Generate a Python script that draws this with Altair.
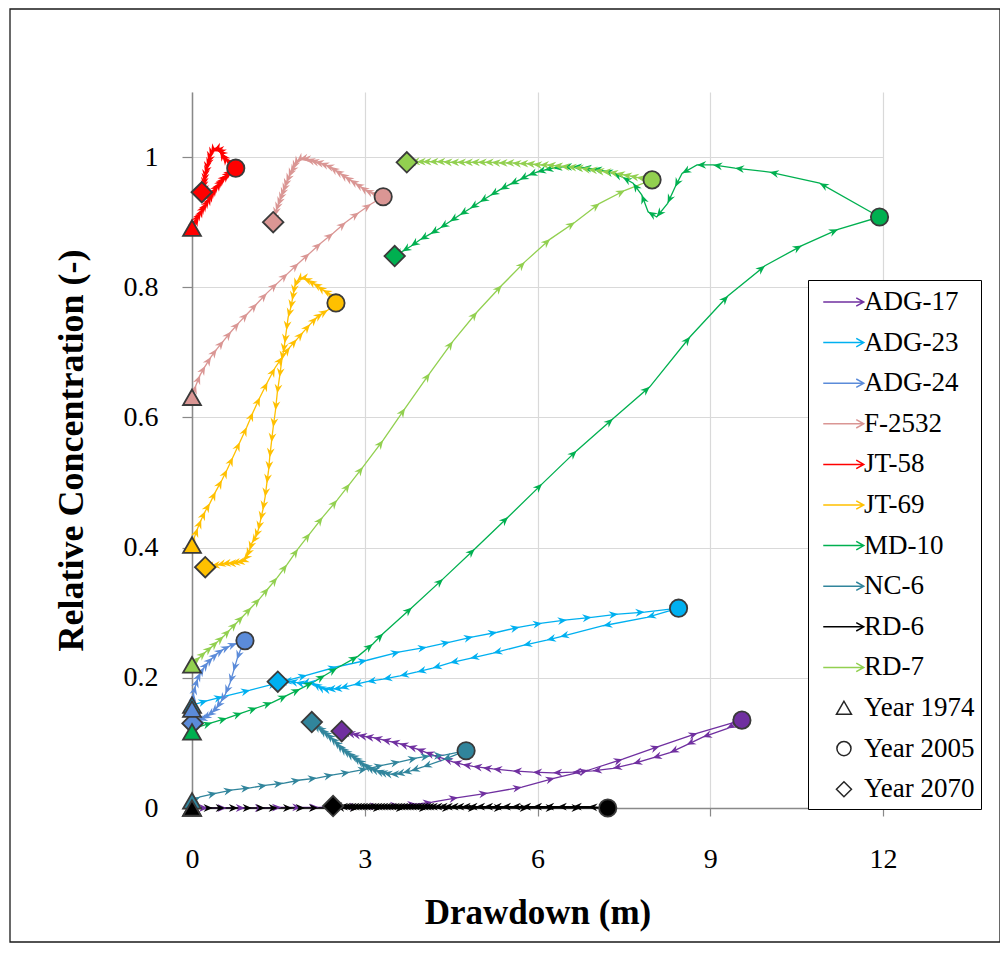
import math
import pandas as pd
import altair as alt

SERIF = "Liberation Serif"

WELLS = ["ADG-17", "ADG-23", "ADG-24", "F-2532", "JT-58", "JT-69", "MD-10", "NC-6", "RD-6", "RD-7"]
COLORS = ["#7030A0", "#00B0F0", "#5B8BD9", "#DA9694", "#FF0000", "#FFC000", "#00B050", "#31859C", "#000000", "#92D050"]
YEAR_LABELS = ["Year 1974", "Year 2005", "Year 2070"]
X_TICKS = [0, 3, 6, 9, 12]
Y_TICKS = [0, 0.2, 0.4, 0.6, 0.8, 1.0]

# Each well: path 1974 -> 2005 (ends at the 2005 point), then 2005 -> 2070 (ends at the 2070 point)
ADG17_TO_2005 = [(0, 0), (0.28, 0), (0.6, 0), (0.92, 0), (1.25, 0), (1.55, 0.001), (1.9, 0.001), (2.2, 0.001),
                 (2.55, 0.002), (2.9, 0.002), (3.25, 0.003), (3.6, 0.004), (3.9, 0.006), (4.17, 0.009), (4.62, 0.016),
                 (5.14, 0.023), (5.73, 0.032), (6.30, 0.046), (6.88, 0.058), (7.48, 0.075), (8.12, 0.095),
                 (8.78, 0.115), (9.55, 0.135)]
ADG17_TO_2070 = [(9.29, 0.122), (8.87, 0.109), (8.59, 0.097), (8.30, 0.085), (8.00, 0.077), (7.66, 0.068),
                 (7.31, 0.061), (6.96, 0.057), (6.61, 0.055), (6.27, 0.054), (5.92, 0.055), (5.57, 0.057),
                 (5.23, 0.060), (5.05, 0.062), (4.88, 0.064), (4.7, 0.067), (4.53, 0.071), (4.37, 0.076),
                 (4.2, 0.081), (4.05, 0.086), (3.9, 0.091), (3.75, 0.095), (3.6, 0.099), (3.45, 0.102), (3.3, 0.105),
                 (3.15, 0.108), (3.0, 0.11), (2.88, 0.112), (2.77, 0.114), (2.68, 0.116), (2.6, 0.118)]

ADG23_TO_2005 = [(0, 0.158), (0.27, 0.165), (0.54, 0.171), (1.01, 0.181), (1.48, 0.192), (2.0, 0.204),
                 (2.52, 0.217), (3.04, 0.227), (3.61, 0.240), (4.08, 0.247), (4.48, 0.255), (4.88, 0.263),
                 (5.30, 0.270), (5.69, 0.278), (6.08, 0.284), (6.51, 0.289), (6.94, 0.293), (7.40, 0.298),
                 (7.86, 0.301), (8.45, 0.307)]
ADG23_TO_2070 = [(7.90, 0.293), (7.14, 0.280), (6.39, 0.263), (6.16, 0.258), (5.75, 0.250), (5.23, 0.238),
                 (4.83, 0.230), (4.48, 0.223), (4.18, 0.215), (3.91, 0.209), (3.61, 0.203), (3.32, 0.198),
                 (3.04, 0.194), (2.80, 0.189), (2.57, 0.184), (2.45, 0.183), (2.34, 0.182), (2.25, 0.184),
                 (2.17, 0.188), (2.10, 0.192), (2.0, 0.193), (1.9, 0.191), (1.8, 0.193), (1.68, 0.195),
                 (1.58, 0.194), (1.49, 0.194)]

ADG24_TO_2005 = [(0, 0.152), (0.01, 0.165), (0.03, 0.177), (0.06, 0.188), (0.1, 0.199), (0.15, 0.208),
                 (0.21, 0.216), (0.28, 0.224), (0.36, 0.231), (0.45, 0.238), (0.55, 0.244), (0.66, 0.249),
                 (0.78, 0.253), (0.92, 0.257)]
ADG24_TO_2070 = [(0.85, 0.245), (0.78, 0.228), (0.72, 0.21), (0.66, 0.192), (0.58, 0.175), (0.5, 0.163),
                 (0.42, 0.153), (0.34, 0.146), (0.26, 0.141), (0.18, 0.137), (0.11, 0.135), (0.05, 0.134),
                 (0.01, 0.13)]

F2532_TO_2005 = [(0, 0.631), (0.07, 0.650), (0.14, 0.665), (0.23, 0.679), (0.33, 0.693), (0.43, 0.705),
                 (0.55, 0.718), (0.68, 0.732), (0.82, 0.746), (0.97, 0.760), (1.13, 0.775), (1.30, 0.791),
                 (1.48, 0.806), (1.66, 0.821), (1.85, 0.837), (2.04, 0.852), (2.24, 0.868), (2.45, 0.883),
                 (2.67, 0.900), (2.90, 0.915), (3.11, 0.928), (3.32, 0.939)]
F2532_TO_2070 = [(3.2, 0.942), (3.09, 0.946), (3.0, 0.950), (2.92, 0.955), (2.83, 0.960), (2.74, 0.965),
                 (2.65, 0.970), (2.57, 0.975), (2.48, 0.980), (2.40, 0.985), (2.31, 0.988), (2.22, 0.991),
                 (2.13, 0.993), (2.05, 0.995), (1.98, 0.997), (1.91, 0.997), (1.86, 0.996), (1.82, 0.993),
                 (1.78, 0.987), (1.75, 0.981), (1.71, 0.975), (1.68, 0.969), (1.64, 0.961), (1.61, 0.953),
                 (1.58, 0.946), (1.55, 0.939), (1.52, 0.932), (1.49, 0.925), (1.46, 0.917), (1.44, 0.909),
                 (1.41, 0.900)]

JT58_TO_2005 = [(0, 0.891), (0.03, 0.896), (0.05, 0.900), (0.08, 0.904), (0.10, 0.908), (0.13, 0.912),
                (0.16, 0.916), (0.19, 0.921), (0.23, 0.926), (0.26, 0.930), (0.30, 0.935), (0.33, 0.940),
                (0.36, 0.945), (0.40, 0.950), (0.43, 0.954), (0.47, 0.958), (0.50, 0.962), (0.54, 0.966),
                (0.57, 0.969), (0.61, 0.972), (0.64, 0.975), (0.68, 0.978), (0.71, 0.980), (0.76, 0.983)]
JT58_TO_2070 = [(0.72, 0.987), (0.68, 0.991), (0.64, 0.993), (0.61, 0.995), (0.57, 0.998), (0.54, 1.002),
                (0.51, 1.005), (0.49, 1.008), (0.46, 1.010), (0.43, 1.011), (0.40, 1.011), (0.38, 1.010),
                (0.35, 1.009), (0.33, 1.006), (0.31, 1.001), (0.30, 0.995), (0.28, 0.990), (0.26, 0.985),
                (0.25, 0.979), (0.23, 0.973), (0.22, 0.967), (0.21, 0.961), (0.20, 0.955), (0.19, 0.950),
                (0.17, 0.946)]

JT69_TO_2005 = [(0, 0.404), (0.05, 0.418), (0.10, 0.430), (0.16, 0.443), (0.23, 0.456), (0.31, 0.468),
                (0.41, 0.486), (0.52, 0.504), (0.61, 0.520), (0.71, 0.539), (0.83, 0.562), (0.95, 0.585),
                (1.06, 0.608), (1.18, 0.631), (1.31, 0.654), (1.44, 0.676), (1.57, 0.693), (1.70, 0.708),
                (1.82, 0.720), (1.93, 0.731), (2.05, 0.743), (2.17, 0.754), (2.27, 0.760), (2.36, 0.765),
                (2.50, 0.776)]
JT69_TO_2070 = [(2.42, 0.787), (2.35, 0.792), (2.27, 0.796), (2.18, 0.802), (2.10, 0.806), (2.01, 0.811),
                (1.93, 0.814), (1.87, 0.813), (1.82, 0.809), (1.78, 0.800), (1.76, 0.790), (1.74, 0.780),
                (1.71, 0.767), (1.67, 0.754), (1.64, 0.734), (1.61, 0.714), (1.585, 0.700), (1.56, 0.688),
                (1.52, 0.662), (1.48, 0.637), (1.45, 0.611), (1.41, 0.585), (1.38, 0.562), (1.35, 0.539),
                (1.33, 0.519), (1.30, 0.499), (1.27, 0.478), (1.23, 0.458), (1.19, 0.442), (1.15, 0.427),
                (1.10, 0.415), (1.04, 0.407), (1.00, 0.396), (0.95, 0.386), (0.89, 0.380), (0.83, 0.378),
                (0.76, 0.377), (0.68, 0.376), (0.61, 0.376), (0.52, 0.375), (0.43, 0.373), (0.33, 0.372),
                (0.23, 0.370)]

MD10_TO_2005 = [(0, 0.117), (0.09, 0.124), (0.35, 0.131), (0.61, 0.138), (0.87, 0.146), (1.13, 0.154),
                (1.39, 0.162), (1.65, 0.173), (1.88, 0.183), (2.10, 0.193), (2.31, 0.204), (2.52, 0.215),
                (2.88, 0.233), (3.14, 0.252), (3.32, 0.268), (3.82, 0.308), (4.36, 0.352), (4.91, 0.398),
                (5.49, 0.447), (6.08, 0.498), (6.68, 0.549), (7.31, 0.598), (7.95, 0.647), (8.65, 0.724),
                (9.31, 0.787), (9.95, 0.833), (10.59, 0.864), (11.22, 0.889), (11.94, 0.908)]
MD10_TO_2070 = [(10.90, 0.960), (10.03, 0.977), (9.43, 0.983), (9.05, 0.988), (8.77, 0.988), (8.51, 0.975),
                (8.39, 0.954), (8.26, 0.929), (8.07, 0.908), (7.92, 0.916), (7.81, 0.942), (7.66, 0.960),
                (7.48, 0.969), (7.31, 0.975), (7.15, 0.979), (6.96, 0.982), (6.78, 0.984), (6.61, 0.985),
                (6.44, 0.985), (6.27, 0.983), (6.12, 0.980), (5.99, 0.977), (5.84, 0.972), (5.69, 0.965),
                (5.52, 0.958), (5.35, 0.950), (5.18, 0.941), (5.00, 0.931), (4.83, 0.921), (4.65, 0.911),
                (4.48, 0.901), (4.31, 0.891), (4.14, 0.882), (3.96, 0.873), (3.80, 0.863), (3.65, 0.855),
                (3.52, 0.848)]

NC6_TO_2005 = [(0, 0.011), (0.14, 0.017), (0.43, 0.023), (0.71, 0.028), (1.01, 0.031), (1.30, 0.035),
               (1.58, 0.038), (1.88, 0.043), (2.17, 0.046), (2.45, 0.051), (2.74, 0.055), (3.04, 0.060),
               (3.32, 0.066), (3.61, 0.071), (3.91, 0.077), (4.13, 0.080), (4.36, 0.081), (4.76, 0.088)]
NC6_TO_2070 = [(4.36, 0.074), (4.01, 0.063), (3.80, 0.057), (3.66, 0.054), (3.54, 0.052), (3.44, 0.052),
               (3.32, 0.054), (3.24, 0.056), (3.18, 0.058), (3.09, 0.061), (3.03, 0.064), (2.97, 0.067),
               (2.92, 0.071), (2.86, 0.075), (2.80, 0.079), (2.74, 0.082), (2.68, 0.086), (2.62, 0.090),
               (2.57, 0.094), (2.52, 0.099), (2.46, 0.104), (2.40, 0.109), (2.33, 0.114), (2.27, 0.118),
               (2.22, 0.122), (2.17, 0.125), (2.12, 0.129), (2.08, 0.132)]

RD6_TO_2005 = [(0, 0), (0.14, 0), (0.36, 0), (0.57, 0), (0.80, 0), (1.04, 0), (1.27, 0), (1.49, 0), (1.74, 0),
               (1.96, 0), (2.19, 0), (2.5, 0), (2.9, 0), (3.3, 0), (3.7, 0), (4.1, 0), (4.5, 0), (4.95, 0),
               (5.4, 0), (5.85, 0), (6.3, 0), (6.75, 0), (7.22, 0)]
RD6_TO_2070 = [(6.88, 0.002), (6.61, 0.002), (6.35, 0.002), (6.13, 0.002), (5.92, 0.002), (5.73, 0.002),
               (5.55, 0.002), (5.38, 0.002), (5.22, 0.002), (5.07, 0.002), (4.93, 0.002), (4.80, 0.002),
               (4.68, 0.002), (4.57, 0.002), (4.47, 0.002), (4.37, 0.002), (4.28, 0.002), (4.19, 0.002),
               (4.11, 0.002), (4.05, 0.002), (4.00, 0.002), (3.95, 0.002), (3.90, 0.002), (3.85, 0.002),
               (3.80, 0.002), (3.75, 0.002), (3.70, 0.002), (3.65, 0.002), (3.60, 0.002), (3.55, 0.002),
               (3.50, 0.002), (3.45, 0.002), (3.40, 0.002), (3.35, 0.002), (3.30, 0.002), (3.25, 0.002),
               (3.20, 0.002), (3.15, 0.002), (3.10, 0.002), (3.05, 0.002), (3.00, 0.002), (2.95, 0.002),
               (2.90, 0.002), (2.85, 0.002), (2.80, 0.002), (2.75, 0.002), (2.70, 0.002), (2.65, 0.002),
               (2.60, 0.002), (2.55, 0.002), (2.50, 0.003), (2.45, 0.003)]

RD7_TO_2005 = [(0, 0.220), (0.06, 0.226), (0.14, 0.232), (0.24, 0.240), (0.35, 0.248), (0.45, 0.256),
               (0.55, 0.264), (0.66, 0.274), (0.78, 0.285), (0.89, 0.295), (1.03, 0.308), (1.18, 0.322),
               (1.33, 0.338), (1.48, 0.354), (1.65, 0.374), (1.84, 0.398), (2.05, 0.422), (2.27, 0.447),
               (2.52, 0.473), (2.74, 0.498), (2.97, 0.524), (3.32, 0.565), (3.70, 0.614), (4.13, 0.668),
               (4.53, 0.717), (4.95, 0.762), (5.38, 0.803), (5.78, 0.839), (6.22, 0.874), (6.65, 0.900),
               (7.08, 0.929), (7.52, 0.949), (7.99, 0.965)]
RD7_TO_2070 = [(7.85, 0.967), (7.72, 0.969), (7.60, 0.971), (7.48, 0.973), (7.36, 0.975), (7.24, 0.977),
               (7.12, 0.978), (7.00, 0.980), (6.88, 0.981), (6.76, 0.983), (6.64, 0.984), (6.52, 0.985),
               (6.40, 0.986), (6.28, 0.987), (6.16, 0.988), (6.04, 0.988), (5.92, 0.989), (5.80, 0.990),
               (5.68, 0.990), (5.56, 0.991), (5.44, 0.991), (5.32, 0.991), (5.20, 0.992), (5.08, 0.992),
               (4.96, 0.992), (4.84, 0.992), (4.72, 0.992), (4.60, 0.992), (4.48, 0.992), (4.36, 0.993),
               (4.24, 0.993), (4.12, 0.993), (4.00, 0.993), (3.90, 0.993), (3.80, 0.992), (3.73, 0.992)]

SERIES = [
    ("ADG-17", ADG17_TO_2005, ADG17_TO_2070),
    ("ADG-23", ADG23_TO_2005, ADG23_TO_2070),
    ("ADG-24", ADG24_TO_2005, ADG24_TO_2070),
    ("F-2532", F2532_TO_2005, F2532_TO_2070),
    ("JT-58", JT58_TO_2005, JT58_TO_2070),
    ("JT-69", JT69_TO_2005, JT69_TO_2070),
    ("MD-10", MD10_TO_2005, MD10_TO_2070),
    ("NC-6", NC6_TO_2005, NC6_TO_2070),
    ("RD-6", RD6_TO_2005, RD6_TO_2070),
    ("RD-7", RD7_TO_2005, RD7_TO_2070),
]

W, H = 691, 716
X_MAX, Y_MAX = 12, 1.1

path_rows, arrow_rows, marker_rows = [], [], []
for well, fwd, ret in SERIES:
    pts = list(fwd) + list(ret)
    for i, (x, y) in enumerate(pts):
        path_rows.append({"well": well, "idx": i, "x": x, "y": y})
        if i > 0:
            x0, y0 = pts[i - 1]
            ang = math.degrees(math.atan2(-(y - y0) * H / Y_MAX, (x - x0) * W / X_MAX)) % 360
            arrow_rows.append({"well": well, "x": x, "y": y, "angle": ang})
    marker_rows.append({"well": well, "year": "1974", "x": pts[0][0], "y": pts[0][1]})
    marker_rows.append({"well": well, "year": "2005", "x": fwd[-1][0], "y": fwd[-1][1]})
    marker_rows.append({"well": well, "year": "2070", "x": pts[-1][0], "y": pts[-1][1]})

path_df = pd.DataFrame(path_rows)
arrow_df = pd.DataFrame(arrow_rows)
marker_df = pd.DataFrame(marker_rows)

color_scale = alt.Scale(domain=WELLS, range=COLORS)

x_axis = alt.Axis(values=X_TICKS, grid=True, gridColor="#D9D9D9", gridWidth=1.2,
                  domainColor="#898989", domainWidth=1.5, tickColor="#898989", tickSize=8, tickWidth=1.2,
                  labelFont=SERIF, labelFontSize=28, labelColor="black", labelPadding=29, labelFlush=False,
                  title="Drawdown (m)", titleFont=SERIF, titleFontSize=35, titleFontWeight="bold",
                  titleColor="black", titlePadding=22)
y_axis = alt.Axis(values=Y_TICKS, format="~g", grid=True, gridColor="#D9D9D9", gridWidth=1.2,
                  domainColor="#898989", domainWidth=1.5, tickColor="#898989", tickSize=10, tickWidth=1.2,
                  labelFont=SERIF, labelFontSize=28, labelColor="black", labelPadding=24, labelFlush=False,
                  title="Relative Concentration (-)", titleFont=SERIF, titleFontSize=36,
                  titleFontWeight="bold", titleColor="black", titlePadding=33)

X = alt.X("x:Q", scale=alt.Scale(domain=[0, X_MAX], nice=False, zero=False), axis=x_axis)
Y = alt.Y("y:Q", scale=alt.Scale(domain=[0, Y_MAX], nice=False), axis=y_axis)

ARROW_HEAD = "M0,0 L-2,-0.85 L-1.35,0 L-2,0.85 Z"

lines = alt.Chart(path_df).mark_line(strokeWidth=1.3).encode(
    x=X, y=Y, color=alt.Color("well:N", scale=color_scale, legend=None), order="idx:Q")

arrows = alt.Chart(arrow_df).mark_point(filled=True, shape=ARROW_HEAD, size=85, opacity=1, strokeWidth=0).encode(
    x=X, y=Y, color=alt.Color("well:N", scale=color_scale, legend=None),
    angle=alt.Angle("angle:Q", scale=None))

def marker_layer(year, shape, size):
    return alt.Chart(marker_df[marker_df["year"] == year]).mark_point(
        filled=True, shape=shape, size=size, opacity=1, stroke="#3A3A3A", strokeWidth=1.8).encode(
        x=X, y=Y, fill=alt.Fill("well:N", scale=color_scale, legend=None))

diam = marker_layer("2070", "diamond", 420)
tri = marker_layer("1974", "triangle-up", 320)
circ = marker_layer("2005", "circle", 300)

# legend (symbols only)
LEGEND_LABELS = WELLS + YEAR_LABELS
ARROW_SYM = "M-0.45,0 L2.25,0 M1.75,-0.28 L2.25,0 L1.75,0.28"
TRI_SYM = "M0.93,-0.45 L1.43,0.42 L0.43,0.42 Z"
CIRC_SYM = "M1.4,0 A0.47,0.47 0 1,1 0.46,0 A0.47,0.47 0 1,1 1.4,0 Z"
DIAM_SYM = "M0.93,-0.5 L1.43,0 L0.93,0.5 L0.43,0 Z"
LEGEND_SHAPES = [ARROW_SYM] * len(WELLS) + [TRI_SYM, CIRC_SYM, DIAM_SYM]
LEGEND_COLORS = COLORS + ["#262626", "#262626", "#262626"]

legend_props = dict(orient="none", legendX=616, legendY=188, title=None, padding=6,
                    strokeColor="black", fillColor="white", symbolSize=900, symbolStrokeWidth=1.5,
                    labelFont=SERIF, labelFontSize=27, labelColor="black", labelOffset=18,
                    rowPadding=11.6, labelLimit=400, symbolOpacity=1)

legend_df = pd.DataFrame({"label": LEGEND_LABELS})
legend_layer = alt.Chart(legend_df).mark_point(filled=False, opacity=1, strokeWidth=1.5).encode(
    x=alt.value(0), y=alt.value(0),
    stroke=alt.Stroke("label:N", scale=alt.Scale(domain=LEGEND_LABELS, range=LEGEND_COLORS),
                      legend=alt.Legend(**legend_props)),
    shape=alt.Shape("label:N", scale=alt.Scale(domain=LEGEND_LABELS, range=LEGEND_SHAPES),
                    legend=alt.Legend(**legend_props)),
).transform_filter("false")

border = alt.Chart(pd.DataFrame({"a": [0]})).mark_rect(fillOpacity=0, stroke="#1A1A1A", strokeWidth=1.3).encode(
    x=alt.value(-182), x2=alt.value(808), y=alt.value(-83), y2=alt.value(850))

chart = alt.layer(border, lines, arrows, diam, tri, circ, legend_layer).properties(
    width=W, height=H,
    padding={"left": 184, "top": 84, "right": 117, "bottom": 136},
    autosize=alt.AutoSizeParams(type="none"),
    background="white",
).configure_view(strokeWidth=0)

chart.save("out.html", embed_options={"renderer": "svg", "actions": False})
